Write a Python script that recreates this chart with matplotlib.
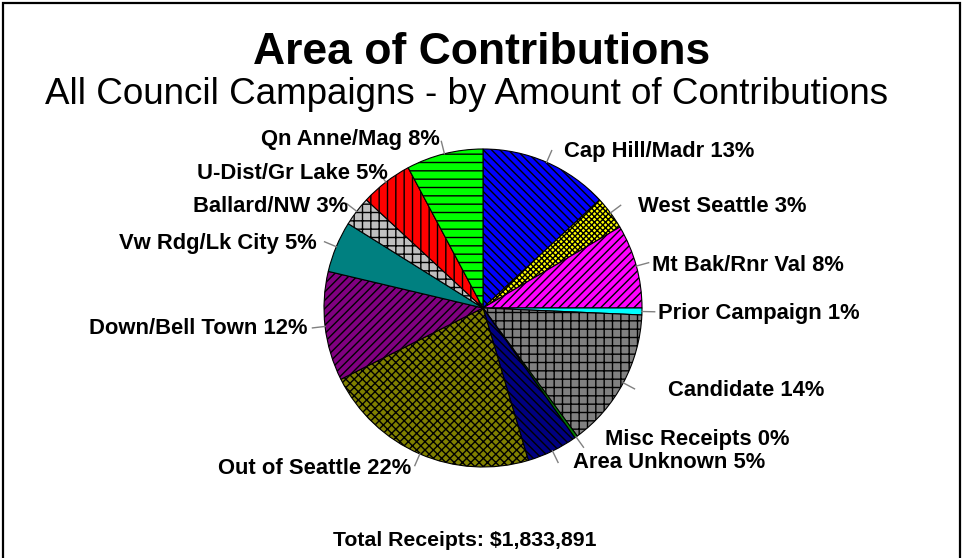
import numpy as np
import matplotlib
matplotlib.use("Agg")
import matplotlib.pyplot as plt
from matplotlib.patches import Rectangle

plt.rcParams['font.family'] = ['Liberation Sans', 'DejaVu Sans']
plt.rcParams['hatch.linewidth'] = 1.0

# slices, clockwise from 12 o'clock
areas = ["Cap Hill/Madr", "West Seattle", "Mt Bak/Rnr Val", "Prior Campaign",
         "Candidate", "Misc Receipts", "Area Unknown", "Out of Seattle",
         "Down/Bell Town", "Vw Rdg/Lk City", "Ballard/NW", "U-Dist/Gr Lake",
         "Qn Anne/Mag"]
shares = [13.1, 3.4, 8.5, 0.7, 14.2, 0.3, 5.2, 22.2, 11.1, 5.2, 3.0, 5.3, 7.8]
pct_labels = [13, 3, 8, 1, 14, 0, 5, 22, 12, 5, 3, 5, 8]
total_receipts = "$1,833,891"

colors = ["#0000FF", "#FFFF00", "#FF00FF", "#00FFFF", "#808080", "#008000",
          "#000080", "#808000", "#800080", "#008080", "#C0C0C0", "#FF0000",
          "#00FF00"]
# diagonal hatches are spaced 2/n, straight ones 1/n -> double the diagonals
hatches = ["\\\\\\\\", "xxxxxx", "////", "", "++", "", "\\\\\\\\", "xxxx",
           "////", "", "++", "||", "--"]

# label anchors in pixels (x, y from top-left) and alignment
label_pos = [(564, 152, "left"), (638, 207, "left"), (652, 266, "left"),
             (658, 313, "left"), (668, 391, "left"), (605, 439, "left"),
             (573, 463, "left"), (411, 468, "right"), (307, 328, "right"),
             (317, 243, "right"), (348, 207, "right"), (388, 174, "right"),
             (440, 140, "right")]

W, H = 963, 558
cx, cy, R = 483, 308, 159

fig = plt.figure(figsize=(W / 100, H / 100), dpi=100)
fig.patch.set_facecolor("white")

# outer frame
fig.patches.append(Rectangle((3 / W, -0.01), 957 / W, 1 - 2.5 / H + 0.01,
                             transform=fig.transFigure, fill=False,
                             edgecolor="black", linewidth=1.6))

ax = fig.add_axes([(cx - R) / W, 1 - (cy + R) / H, 2 * R / W, 2 * R / H])
wedges, _ = ax.pie(shares, colors=colors, startangle=90, counterclock=False,
                   radius=1.0, wedgeprops=dict(edgecolor="black", linewidth=0.8))
for w, h in zip(wedges, hatches):
    w.set_hatch(h)
    w.set_clip_on(False)
ax.set_xlim(-1, 1)
ax.set_ylim(-1, 1)
ax.axis("off")

# leader lines
for w in wedges:
    ang = np.deg2rad((w.theta1 + w.theta2) / 2)
    ax.plot([np.cos(ang), 1.08 * np.cos(ang)], [np.sin(ang), 1.08 * np.sin(ang)],
            color="#808080", linewidth=1, clip_on=False)

for name, pct, (x, y, ha) in zip(areas, pct_labels, label_pos):
    fig.text(x / W, 1 - y / H, f"{name} {pct}%", ha=ha, va="center",
             fontsize=15.8, fontweight="bold")

fig.text(482 / W, 1 - 52 / H, "Area of Contributions", ha="center", va="center",
         fontsize=32, fontweight="bold")
fig.text(467 / W, 1 - 94 / H, "All Council Campaigns - by Amount of Contributions",
         ha="center", va="center", fontsize=26.5)
fig.text(465 / W, 1 - 540 / H, f"Total Receipts: {total_receipts}", ha="center",
         va="center", fontsize=15.3, fontweight="bold")

fig.savefig("out.png", dpi=100)
